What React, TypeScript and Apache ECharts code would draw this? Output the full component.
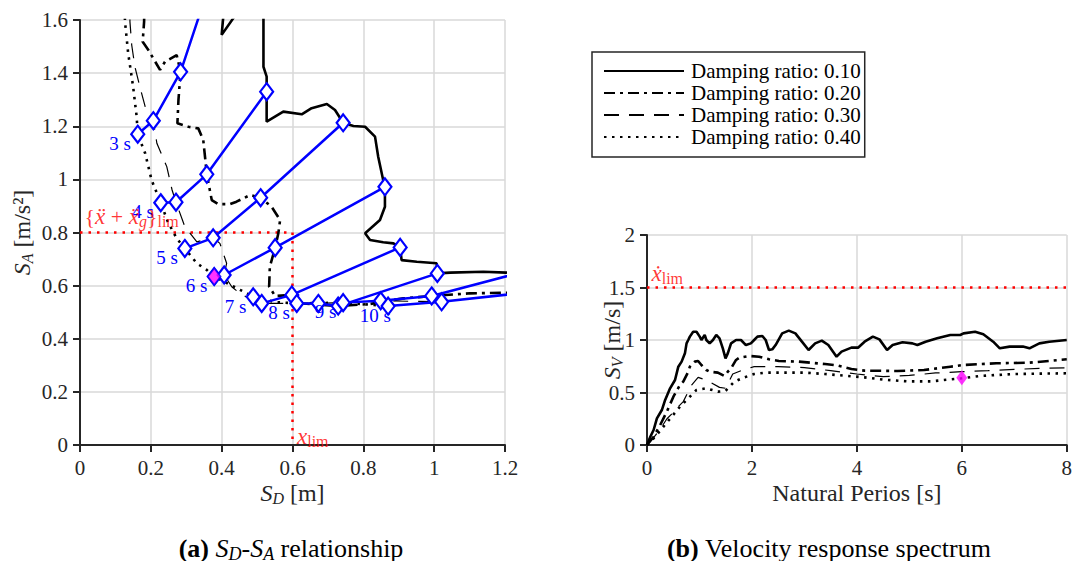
import React, { useEffect, useRef } from "react";
import * as echarts from "echarts";

const FONT = "Liberation Serif";
const INK = "#262626";
const BLUE = "#0000ff";
const RED = "#ff0000";
const MAGENTA = "#ff00ff";

const dampingNames = [
  "Damping ratio: 0.10",
  "Damping ratio: 0.20",
  "Damping ratio: 0.30",
  "Damping ratio: 0.40",
];
const periodLabels = ["3 s", "4 s", "5 s", "6 s", "7 s", "8 s", "9 s", "10 s"];

// limits
const limDisp = 0.6;
const limAcc = 0.8;
const limVel = 1.5;

// (SD, SA) points per period, ordered damping 0.40, 0.30, 0.20, 0.10
const sdsa3s = [[0.163, 1.17], [0.207, 1.221], [0.284, 1.405], [0.36, 1.71]];
const sdsa4s = [[0.228, 0.912], [0.271, 0.914], [0.358, 1.019], [0.527, 1.33]];
const sdsa5s = [[0.296, 0.74], [0.376, 0.78], [0.51, 0.931], [0.743, 1.213]];
const sdsa6s = [[0.379, 0.634], [0.407, 0.64], [0.551, 0.743], [0.861, 0.972]];
const sdsa7s = [[0.489, 0.558], [0.513, 0.533], [0.598, 0.565], [0.904, 0.744]];
const sdsa8s = [[0.612, 0.533], [0.673, 0.533], [0.729, 0.523], [1.009, 0.646]];
const sdsa9s = [[0.743, 0.536], [0.849, 0.543], [0.993, 0.561], [1.3, 0.669]];
const sdsa10s = [[0.87, 0.523], [1.021, 0.539], [1.3, 0.58], [1.5, 0.66]];
const sdsaPeriods = [sdsa3s, sdsa4s, sdsa5s, sdsa6s, sdsa7s, sdsa8s, sdsa9s, sdsa10s];

// (SD, SA) curves per damping ratio
const sdsaD10 = [
  [0.407, 1.65], [0.4, 1.544], [0.445, 1.63], [0.5, 1.9], [0.518, 1.9], [0.518, 1.6],
  [0.518, 1.424], [0.527, 1.387], [0.527, 1.33], [0.527, 1.217], [0.574, 1.255],
  [0.626, 1.245], [0.654, 1.268], [0.697, 1.284], [0.72, 1.261], [0.743, 1.213],
  [0.772, 1.201], [0.805, 1.198], [0.833, 1.161], [0.842, 1.085], [0.856, 0.998],
  [0.861, 0.972], [0.861, 0.897], [0.847, 0.847], [0.805, 0.797], [0.819, 0.772],
  [0.856, 0.763], [0.885, 0.759], [0.904, 0.744], [0.908, 0.696], [0.951, 0.69],
  [1.007, 0.684], [1.009, 0.646], [1.045, 0.649], [1.139, 0.652], [1.203, 0.649],
  [1.3, 0.669],
];
const sdsaD20 = [
  [0.182, 1.7], [0.181, 1.594], [0.177, 1.518], [0.193, 1.487], [0.226, 1.412],
  [0.24, 1.443], [0.273, 1.468], [0.284, 1.405], [0.278, 1.299], [0.275, 1.211],
  [0.306, 1.198], [0.334, 1.192], [0.348, 1.148], [0.353, 1.085], [0.358, 1.019],
  [0.372, 0.922], [0.39, 0.907], [0.424, 0.907], [0.442, 0.916], [0.48, 0.941],
  [0.51, 0.931], [0.541, 0.897], [0.565, 0.847], [0.56, 0.797], [0.551, 0.743],
  [0.536, 0.671], [0.534, 0.596], [0.551, 0.561], [0.598, 0.565], [0.63, 0.533],
  [0.729, 0.523], [0.819, 0.531], [0.913, 0.552], [0.993, 0.561], [1.101, 0.571],
  [1.2, 0.573], [1.3, 0.58],
];
const sdsaD30 = [
  [0.141, 1.7], [0.141, 1.594], [0.146, 1.506], [0.155, 1.424], [0.169, 1.349],
  [0.184, 1.274], [0.207, 1.221], [0.217, 1.136], [0.245, 1.048], [0.26, 0.96],
  [0.271, 0.914], [0.296, 0.822], [0.33, 0.765], [0.376, 0.78], [0.395, 0.759],
  [0.414, 0.684], [0.407, 0.64], [0.429, 0.595], [0.457, 0.565], [0.513, 0.533],
  [0.673, 0.533], [0.849, 0.543], [1.021, 0.539],
];
const sdsaD40 = [
  [0.125, 1.7], [0.127, 1.594], [0.136, 1.475], [0.15, 1.349], [0.16, 1.236],
  [0.163, 1.17], [0.184, 1.098], [0.202, 0.998], [0.228, 0.912], [0.248, 0.84],
  [0.273, 0.778], [0.296, 0.74], [0.33, 0.684], [0.358, 0.659], [0.379, 0.634],
  [0.452, 0.584], [0.489, 0.558], [0.551, 0.538], [0.612, 0.533], [0.743, 0.536],
  [0.87, 0.523],
];
const sdsaCurves = [sdsaD10, sdsaD20, sdsaD30, sdsaD40];

// (T, SV) velocity spectra per damping ratio
const svD10 = [
  [0, 0], [0.063, 0.079], [0.126, 0.143], [0.189, 0.254], [0.283, 0.333], [0.346, 0.429],
  [0.44, 0.54], [0.534, 0.619], [0.597, 0.746], [0.66, 0.794], [0.723, 0.873],
  [0.754, 0.968], [0.786, 1.0], [0.817, 1.032], [0.88, 1.079], [0.943, 1.079],
  [1.005, 1.032], [1.037, 1.0], [1.1, 1.048], [1.131, 1.0], [1.194, 0.968],
  [1.257, 1.0], [1.32, 1.048], [1.382, 1.016], [1.445, 0.921], [1.496, 0.825],
  [1.54, 0.873], [1.602, 0.968], [1.697, 1.0], [1.791, 1.0], [1.885, 0.952],
  [1.979, 0.968], [2.042, 1.0], [2.105, 1.032], [2.199, 1.038], [2.262, 1.0],
  [2.325, 0.905], [2.388, 0.911], [2.451, 0.952], [2.576, 1.063], [2.702, 1.089],
  [2.828, 1.063], [2.953, 0.984], [3.079, 0.905], [3.205, 0.968], [3.331, 0.994],
  [3.456, 0.952], [3.613, 0.841], [3.708, 0.889], [3.896, 0.927], [4.022, 0.927],
  [4.147, 0.984], [4.305, 1.032], [4.43, 1.006], [4.575, 0.905], [4.682, 0.952],
  [4.87, 0.978], [5.059, 0.968], [5.153, 0.952], [5.31, 0.984], [5.53, 1.016],
  [5.781, 1.048], [5.97, 1.048], [6.033, 1.063], [6.253, 1.079], [6.41, 1.054],
  [6.598, 0.984], [6.724, 0.921], [6.912, 0.937], [7.164, 0.937], [7.289, 0.921],
  [7.478, 0.968], [7.666, 0.984], [8.0, 1.0],
];
const svD20 = [
  [0, 0], [0.126, 0.079], [0.251, 0.19], [0.377, 0.317], [0.503, 0.46], [0.628, 0.571],
  [0.691, 0.603], [0.786, 0.698], [0.817, 0.746], [0.911, 0.794], [0.974, 0.8],
  [1.037, 0.762], [1.131, 0.714], [1.194, 0.698], [1.351, 0.689], [1.477, 0.657],
  [1.54, 0.698], [1.602, 0.73], [1.697, 0.81], [1.76, 0.832], [1.948, 0.848],
  [2.137, 0.841], [2.325, 0.816], [2.514, 0.8], [2.891, 0.794], [3.393, 0.771],
  [3.645, 0.756], [3.896, 0.724], [4.147, 0.708], [4.776, 0.705], [5.279, 0.714],
  [5.781, 0.746], [6.033, 0.762], [6.661, 0.778], [7.289, 0.784], [8.0, 0.816],
];
const svD30 = [
  [0, 0], [0.126, 0.07], [0.25, 0.15], [0.38, 0.25], [0.5, 0.31], [0.566, 0.349],
  [0.691, 0.413], [0.754, 0.476], [0.85, 0.57], [0.974, 0.644], [1.131, 0.619],
  [1.382, 0.549], [1.5, 0.54], [1.634, 0.676], [1.822, 0.714], [2.042, 0.746],
  [2.5, 0.746], [3.0, 0.737], [3.5, 0.708], [4.0, 0.676], [4.5, 0.651], [5.0, 0.663],
  [5.5, 0.686], [6.0, 0.698], [6.5, 0.708], [7.0, 0.72], [7.5, 0.73], [8.0, 0.735],
];
const svD40 = [
  [0, 0], [0.157, 0.079], [0.314, 0.175], [0.471, 0.27], [0.628, 0.365], [0.786, 0.444],
  [0.943, 0.524], [1.131, 0.54], [1.351, 0.508], [1.496, 0.515], [1.665, 0.603],
  [1.854, 0.644], [2.042, 0.676], [2.262, 0.689], [2.639, 0.689], [3.016, 0.689],
  [3.393, 0.676], [3.77, 0.66], [4.147, 0.644], [4.524, 0.622], [4.964, 0.606],
  [5.404, 0.606], [5.781, 0.625], [6.001, 0.635], [6.347, 0.657], [6.975, 0.676],
  [8.0, 0.683],
];
const svCurves = [svD10, svD20, svD30, svD40];

// selected design point (6 s, damping 0.40)
const selectedSdSa = [0.379, 0.634];
const selectedTSv = [6.0, 0.64];

const dampingLine: any[] = [
  { width: 2.6, type: "solid" },
  { width: 2.6, type: [11, 5, 3, 5] },
  { width: 1.2, type: [15, 10] },
  { width: 2.6, type: [2.5, 5.5] },
];

const axisBase = (name: string, min: number, max: number, interval: number, gap: number) => ({
  type: "value",
  min,
  max,
  interval,
  name,
  nameLocation: "middle",
  nameGap: gap,
  nameMoveOverlap: false,
  nameTextStyle: {
    fontFamily: FONT,
    fontSize: 24,
    color: INK,
    lineHeight: 30,
    rich: {
      i: { fontFamily: FONT, fontSize: 24, fontStyle: "italic", color: INK, lineHeight: 30 },
      sub: { fontFamily: FONT, fontSize: 16, fontStyle: "italic", color: INK, lineHeight: 16, padding: [11, 0, 0, 0] },
    },
  },
  axisLine: { show: true, onZero: false, lineStyle: { color: INK, width: 2 } },
  axisTick: { show: true, inside: false, length: 7, lineStyle: { color: INK, width: 2 } },
  axisLabel: { color: INK, fontFamily: FONT, fontSize: 21, margin: 12 },
  splitLine: { show: true, lineStyle: { color: "#d9d9d9", width: 1.5 } },
});

function App() {
  const ref = useRef<HTMLDivElement>(null);
  useEffect(() => {
    if (!ref.current) return;
    const chart = echarts.init(ref.current, null, { renderer: "svg", width: 1075, height: 561 });

    const series: any[] = [];
    // red limit lines
    series.push({
      type: "line", xAxisIndex: 0, yAxisIndex: 0, symbol: "none", silent: true, z: 1,
      data: [[0, limAcc], [limDisp, limAcc], [limDisp, 0]],
      lineStyle: { color: RED, width: 2.5, type: [2.5, 6] },
    });
    series.push({
      type: "line", xAxisIndex: 1, yAxisIndex: 1, symbol: "none", silent: true, z: 1,
      data: [[0, limVel], [8, limVel]],
      lineStyle: { color: RED, width: 2.5, type: [2.5, 6] },
    });
    // damping curves
    sdsaCurves.forEach((d, i) => {
      series.push({
        type: "line", name: dampingNames[i], xAxisIndex: 0, yAxisIndex: 0, data: d,
        symbol: "none", silent: true, z: 2,
        lineStyle: { color: "#000", ...dampingLine[i] },
        itemStyle: { color: "#000" },
      });
    });
    svCurves.forEach((d, i) => {
      series.push({
        type: "line", name: dampingNames[i], xAxisIndex: 1, yAxisIndex: 1, data: d,
        symbol: "none", silent: true, z: 2,
        lineStyle: { color: "#000", ...dampingLine[i] },
        itemStyle: { color: "#000" },
      });
    });
    // period lines
    sdsaPeriods.forEach((d, i) => {
      series.push({
        type: "line", name: periodLabels[i], xAxisIndex: 0, yAxisIndex: 0, data: d,
        symbol: "diamond", symbolSize: [13, 17], showAllSymbol: true, silent: true, z: 3,
        lineStyle: { color: BLUE, width: 2.5 },
        itemStyle: { color: "#fff", borderColor: BLUE, borderWidth: 2.2 },
        label: {
          show: true,
          formatter: (p: any) => (p.dataIndex === 0 ? periodLabels[i] : ""),
          position: [-21, 19],
          align: "left",
          verticalAlign: "middle",
          color: BLUE,
          fontFamily: FONT,
          fontSize: 19,
        },
      });
    });
    // selected point markers
    series.push({
      type: "scatter", xAxisIndex: 0, yAxisIndex: 0, data: [selectedSdSa], silent: true, z: 4,
      symbol: "diamond", symbolSize: [13, 17],
      itemStyle: { color: MAGENTA, borderColor: BLUE, borderWidth: 1.5 },
    });
    series.push({
      type: "scatter", xAxisIndex: 1, yAxisIndex: 1, data: [selectedTSv], silent: true, z: 4,
      symbol: "diamond", symbolSize: [11, 15],
      itemStyle: { color: MAGENTA },
    });
    // limit annotations
    const richRed = {
      it: { fontFamily: FONT, fontSize: 23, fontStyle: "italic", color: RED, lineHeight: 28 },
      sub: { fontFamily: FONT, fontSize: 16, color: RED, lineHeight: 16, padding: [10, 0, 0, 0] },
      subi: { fontFamily: FONT, fontSize: 16, fontStyle: "italic", color: RED, lineHeight: 16, padding: [10, 0, 0, 0] },
    };
    const annot = (xi: number, pt: number[], text: string, pos: number[]) => ({
      type: "scatter", xAxisIndex: xi, yAxisIndex: xi, data: [pt], silent: true, z: 5,
      symbolSize: 1, itemStyle: { color: "rgba(0,0,0,0)" },
      label: {
        show: true, formatter: () => text, position: pos, align: "left", verticalAlign: "middle",
        color: RED, fontFamily: FONT, fontSize: 22, lineHeight: 28, rich: richRed,
      },
    });
    series.push(annot(0, [0, limAcc], "{{it|\u1E8D} + {it|\u1E8D}{subi|g}}{sub|lim}", [5, -16]));
    series.push(annot(0, [limDisp, 0], "{it|x}{sub|lim}", [5, -8]));
    series.push(annot(1, [0, limVel], "{it|\u1E8B}{sub|lim}", [5, -14]));

    const option: any = {
      animation: false,
      backgroundColor: "#ffffff",
      textStyle: { fontFamily: FONT },
      grid: [
        { left: 80, top: 20, width: 425, height: 425 },
        { left: 647, top: 235, width: 424, height: 210 },
      ],
      xAxis: [
        { ...axisBase("{i|S}{sub|D} [m]", 0, 1.2, 0.2, 33), gridIndex: 0, position: "bottom" },
        { ...axisBase("Natural Perios [s]", 0, 8, 2, 33), gridIndex: 1, position: "bottom" },
      ],
      yAxis: [
        { ...axisBase("{i|S}{sub|A} [m/s\u00B2]", 0, 1.6, 0.2, 43), gridIndex: 0, position: "left" },
        { ...axisBase("{i|S}{sub|V} [m/s]", 0, 2, 0.5, 20), gridIndex: 1, position: "left" },
      ],
      legend: {
        data: dampingNames,
        orient: "vertical",
        left: 592,
        top: 52,
        itemWidth: 80,
        itemHeight: 14,
        itemGap: 0,
        padding: [8, 4, 9, 11],
        borderColor: "#262626",
        borderWidth: 1.5,
        backgroundColor: "#fff",
        selectedMode: false,
        itemStyle: { opacity: 0 },
        textStyle: { fontFamily: FONT, fontSize: 21, color: "#000", lineHeight: 22, padding: [0, 0, 0, 2] },
      },
      graphic: [
        {
          type: "text", x: 291, y: 548, silent: true,
          style: {
            text: "{b|(a)} {i|S}{sub|D}-{i|S}{sub|A} relationship",
            align: "center", verticalAlign: "middle",
            font: `26px ${FONT}`, fill: "#000", lineHeight: 34,
            rich: {
              b: { fontWeight: "bold", fontSize: 26, fontFamily: FONT, fill: "#000", lineHeight: 34 },
              i: { fontStyle: "italic", fontSize: 26, fontFamily: FONT, fill: "#000", lineHeight: 34 },
              sub: { fontStyle: "italic", fontSize: 18, fontFamily: FONT, fill: "#000", lineHeight: 18, padding: [12, 0, 0, 0] },
            },
          },
        },
        {
          type: "text", x: 829, y: 548, silent: true,
          style: {
            text: "{b|(b)} Velocity response spectrum",
            align: "center", verticalAlign: "middle",
            font: `26px ${FONT}`, fill: "#000", lineHeight: 34,
            rich: {
              b: { fontWeight: "bold", fontSize: 26, fontFamily: FONT, fill: "#000", lineHeight: 34 },
            },
          },
        },
      ],
      series,
    };
    chart.setOption(option);
    return () => chart.dispose();
  }, []);
  return (
    <div
      ref={ref}
      style={{ position: "absolute", left: 0, top: 0, width: 1075, height: 561, background: "#fff" }}
    />
  );
}

export default App;
